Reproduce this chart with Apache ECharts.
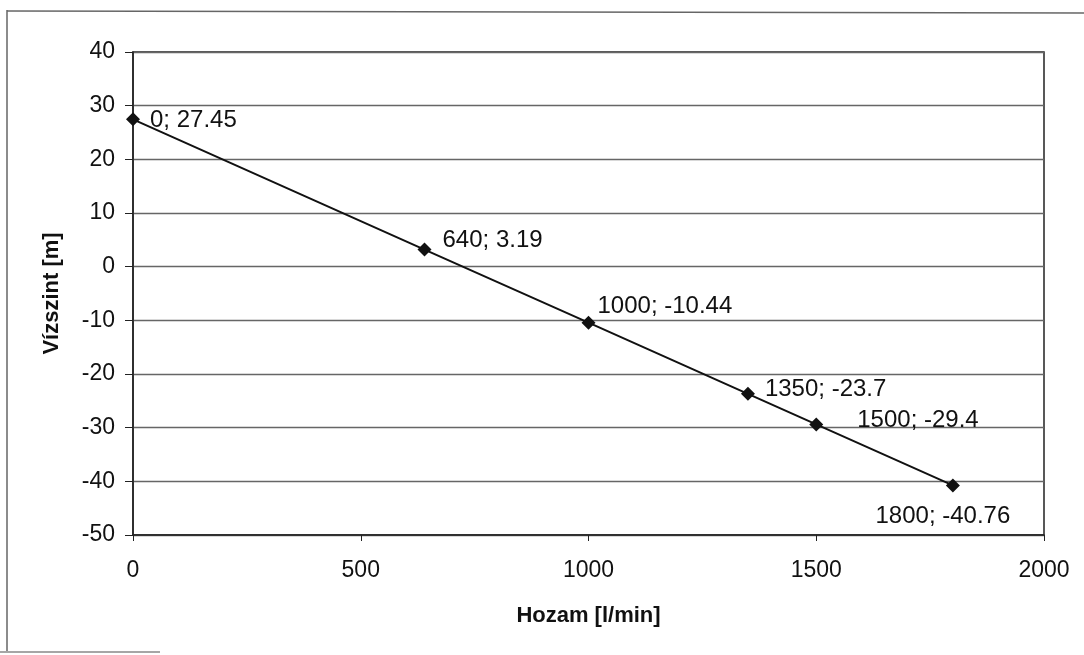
<!DOCTYPE html>
<html><head><meta charset="utf-8">
<script src="https://cdn.jsdelivr.net/npm/echarts@6/dist/echarts.min.js"></script>
<style>html,body{margin:0;padding:0;background:#fff}#c{width:1084px;height:655px}</style>
</head><body><div id="c"></div>
<script>
const hozam = [0, 640, 1000, 1350, 1500, 1800];
const vizszint = [27.45, 3.19, -10.44, -23.7, -29.4, -40.76];
const xTicks = [0, 500, 1000, 1500, 2000];
const yTicks = [-50, -40, -30, -20, -10, 0, 10, 20, 30, 40];
const xName = 'Hozam [l/min]';
const yName = 'Vízszint [m]';

const labelStyles = [
  {position: 'right', offset: [5, 1]},
  {position: 'right', offset: [6, -9]},
  {position: 'right', offset: [-3, -16]},
  {position: 'right', offset: [5, -4]},
  {position: 'right', offset: [29, -4]},
  {position: 'bottom', offset: [-10, 7]}
];
const font = 'Liberation Sans, Arial, sans-serif';
const chart = echarts.init(document.getElementById('c'));
chart.setOption({
  animation: false,
  backgroundColor: '#fff',
  graphic: [
    {type: 'line', shape: {x1: 7, y1: 10, x2: 7, y2: 651}, style: {stroke: '#666', lineWidth: 1.5}, silent: true},
    {type: 'line', shape: {x1: 7, y1: 11, x2: 1084, y2: 13}, style: {stroke: '#666', lineWidth: 1.5}, silent: true},
    {type: 'line', shape: {x1: 0, y1: 652, x2: 160, y2: 652}, style: {stroke: '#888', lineWidth: 1.5}, silent: true}
  ],
  grid: {left: 133, right: 40, top: 52, bottom: 120, show: true, borderColor: '#222', borderWidth: 1.5},
  xAxis: {
    type: 'value', min: xTicks[0], max: xTicks[xTicks.length - 1], interval: 500,
    name: xName, nameLocation: 'middle', nameGap: 70,
    nameTextStyle: {fontFamily: font, fontSize: 22, fontWeight: 'bold', color: '#111'},
    axisLine: {show: true, onZero: false, lineStyle: {color: '#222', width: 1.5}},
    axisTick: {show: true, length: 6, lineStyle: {color: '#222'}},
    axisLabel: {fontFamily: font, fontSize: 23, color: '#111', margin: 24, formatter: v => String(v)},
    splitLine: {show: false}
  },
  yAxis: {
    type: 'value', min: yTicks[0], max: yTicks[yTicks.length - 1], interval: 10,
    name: yName, nameLocation: 'middle', nameGap: 70, nameRotate: 90,
    nameTextStyle: {fontFamily: font, fontSize: 22, fontWeight: 'bold', color: '#111'},
    axisLine: {show: true, lineStyle: {color: '#222', width: 1.5}},
    axisTick: {show: true, length: 8, lineStyle: {color: '#222'}},
    axisLabel: {fontFamily: font, fontSize: 23, color: '#111', margin: 18, formatter: v => String(v)},
    splitLine: {show: true, lineStyle: {color: '#666', width: 1.3}}
  },
  series: [{
    type: 'line',
    data: hozam.map((x, i) => ({
      value: [x, vizszint[i]],
      label: Object.assign({show: true}, labelStyles[i])
    })),
    symbol: 'diamond', symbolSize: 14,
    itemStyle: {color: '#111'},
    lineStyle: {color: '#111', width: 2},
    label: {
      show: true, fontFamily: font, fontSize: 24, color: '#111',
      formatter: p => p.value[0] + '; ' + p.value[1]
    }
  }]
});
</script></body></html>
